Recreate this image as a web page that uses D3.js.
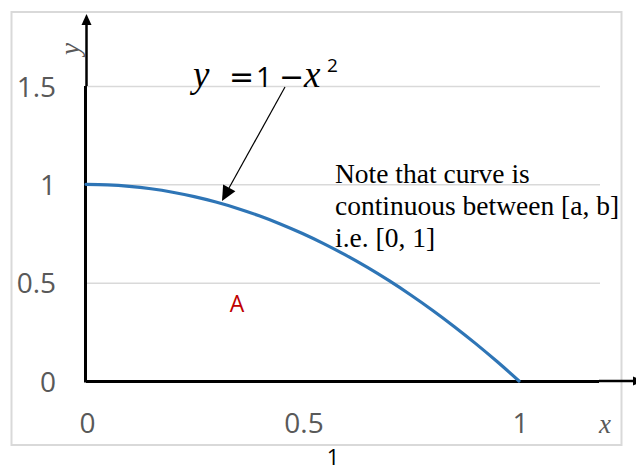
<!DOCTYPE html>
<html>
<head>
<meta charset="utf-8">
<script src="https://cdn.jsdelivr.net/npm/d3@7/dist/d3.min.js"></script>
<style>
  html, body { margin: 0; padding: 0; background: #fff; }
  svg { display: block; }
</style>
</head>
<body>
<script>
// Sampled points of the parabola y = 1 - x^2 on [0, 1]
const xValues = [0, 0.05, 0.1, 0.15, 0.2, 0.25, 0.3, 0.35, 0.4, 0.45, 0.5,
                 0.55, 0.6, 0.65, 0.7, 0.75, 0.8, 0.85, 0.9, 0.95, 1];
const yValues = [1, 0.9975, 0.99, 0.9775, 0.96, 0.9375, 0.91, 0.8775, 0.84, 0.7975, 0.75,
                 0.6975, 0.64, 0.5775, 0.51, 0.4375, 0.36, 0.2775, 0.19, 0.0975, 0];
const xTicks = [0, 0.5, 1];
const yTicks = [0, 0.5, 1, 1.5];

(function () {
const W = 636, H = 471;
const plotLeft = 86, plotRight = 600, plotTop = 86, plotBottom = 381;

const svg = d3.select("body").append("svg")
  .attr("width", W).attr("height", H);

const x = d3.scaleLinear().domain([0, 1]).range([plotLeft, 519]);
const y = d3.scaleLinear().domain([0, 1.5]).range([plotBottom, plotTop]);

// chart frame
svg.append("rect")
  .attr("x", 11.5).attr("y", 12).attr("width", 610).attr("height", 433)
  .attr("fill", "#fff").attr("stroke", "#d9d9d9").attr("stroke-width", 2);

// horizontal gridlines
svg.append("g").selectAll("line")
  .data(yTicks.filter(d => d > 0))
  .join("line")
  .attr("x1", plotLeft).attr("x2", plotRight)
  .attr("y1", d => y(d) + 0.5).attr("y2", d => y(d) + 0.5)
  .attr("stroke", "#d9d9d9").attr("stroke-width", 1.5);

const tickFont = "'Open Sans', 'Liberation Sans', sans-serif";

// y axis labels
const gy = svg.append("g")
  .attr("transform", `translate(${plotLeft},0)`)
  .call(d3.axisLeft(y).tickValues(yTicks).tickSize(0).tickPadding(30)
    .tickFormat(d => String(d)));
gy.select(".domain").remove();
gy.selectAll("text")
  .attr("font-family", tickFont).attr("font-size", 28)
  .attr("fill", "#595959").attr("dy", "0.36em");

// x axis labels
const gx = svg.append("g")
  .attr("transform", `translate(1,${plotBottom})`)
  .call(d3.axisBottom(x).tickValues(xTicks).tickSize(0).tickPadding(32)
    .tickFormat(d => String(d)));
gx.select(".domain").remove();
gx.selectAll("text")
  .attr("font-family", tickFont).attr("font-size", 28)
  .attr("fill", "#595959");

// axis lines with arrows
svg.append("line")
  .attr("x1", 85.5).attr("x2", 85.5).attr("y1", plotBottom + 1.5).attr("y2", plotTop)
  .attr("stroke", "#000").attr("stroke-width", 3);
svg.append("line")
  .attr("x1", 86.5).attr("x2", 86.5).attr("y1", plotTop).attr("y2", 22)
  .attr("stroke", "#000").attr("stroke-width", 2.5);
svg.append("path")
  .attr("d", "M86.5,14 L81.5,25 L91.5,25 Z").attr("fill", "#000");

svg.append("line")
  .attr("x1", plotLeft).attr("x2", 599).attr("y1", 381.5).attr("y2", 381.5)
  .attr("stroke", "#000").attr("stroke-width", 3);
svg.append("line")
  .attr("x1", 599).attr("x2", 634).attr("y1", 381).attr("y2", 381)
  .attr("stroke", "#000").attr("stroke-width", 2.5);
svg.append("path")
  .attr("d", "M644,381 L633,376.5 L633,385.5 Z").attr("fill", "#000");

// axis titles
svg.append("text")
  .attr("transform", "translate(79,49) rotate(-90)")
  .attr("text-anchor", "middle")
  .attr("font-family", "'Liberation Serif', serif").attr("font-style", "italic")
  .attr("font-size", 27).attr("fill", "#595959")
  .text("y");
svg.append("text")
  .attr("x", 605).attr("y", 433)
  .attr("text-anchor", "middle")
  .attr("font-family", "'Liberation Serif', serif").attr("font-style", "italic")
  .attr("font-size", 27).attr("fill", "#595959")
  .text("x");

// the curve
const line = d3.line()
  .x((d, i) => x(xValues[i]))
  .y(d => y(d))
  .curve(d3.curveCatmullRom);
svg.append("path")
  .datum(yValues)
  .attr("d", line)
  .attr("fill", "none")
  .attr("stroke", "#2e75b6")
  .attr("stroke-width", 3.2)
  .attr("stroke-linecap", "round");

// equation label
const eq = svg.append("g").attr("fill", "#000");
const serifIt = "'Liberation Serif', serif";
const mathSans = "'DejaVu Sans', sans-serif";
eq.append("text").attr("x", 193).attr("y", 87)
  .attr("font-family", serifIt).attr("font-style", "italic").attr("font-size", 37)
  .text("y");
eq.append("text").attr("x", 229).attr("y", 87)
  .attr("font-family", mathSans).attr("font-size", 30)
  .text("=");
eq.append("text").attr("x", 256).attr("y", 87)
  .attr("font-family", tickFont).attr("font-size", 28)
  .text("1");
eq.append("text").attr("x", 279).attr("y", 87)
  .attr("font-family", mathSans).attr("font-size", 30)
  .text("−");
eq.append("text").attr("x", 304).attr("y", 87)
  .attr("font-family", serifIt).attr("font-style", "italic").attr("font-size", 37)
  .text("x");
eq.append("text").attr("x", 327).attr("y", 72)
  .attr("font-family", tickFont).attr("font-size", 19)
  .text("2");

// pointer from the equation to the curve
svg.append("line")
  .attr("x1", 285).attr("y1", 87).attr("x2", 229).attr("y2", 188)
  .attr("stroke", "#000").attr("stroke-width", 1.2);
{
  const tip = [222, 201];
  const ang = Math.atan2(87 - tip[1], 285 - tip[0]);
  const len = 15, half = 7;
  const bx = tip[0] + len * Math.cos(ang), by = tip[1] + len * Math.sin(ang);
  const px = -Math.sin(ang) * half, py = Math.cos(ang) * half;
  svg.append("path")
    .attr("d", `M${tip[0]},${tip[1]} L${bx + px},${by + py} L${bx - px},${by - py} Z`)
    .attr("fill", "#000");
}

// note
const note = svg.append("text")
  .attr("font-family", "'Liberation Serif', serif").attr("font-size", 27.5)
  .attr("fill", "#000");
["Note that curve is", "continuous between [a, b]", "i.e. [0, 1]"].forEach((t, i) => {
  note.append("tspan").attr("x", 335).attr("y", 183 + i * 32).text(t);
});

// area label
svg.append("text")
  .attr("x", 237).attr("y", 312)
  .attr("text-anchor", "middle")
  .attr("font-family", tickFont).attr("font-size", 23)
  .attr("fill", "#c00000")
  .text("A");

// caption below the chart
svg.append("text")
  .attr("x", 333).attr("y", 465)
  .attr("text-anchor", "middle")
  .attr("font-family", tickFont).attr("font-size", 22)
  .attr("fill", "#000")
  .text("1");
})();
</script>
</body>
</html>
